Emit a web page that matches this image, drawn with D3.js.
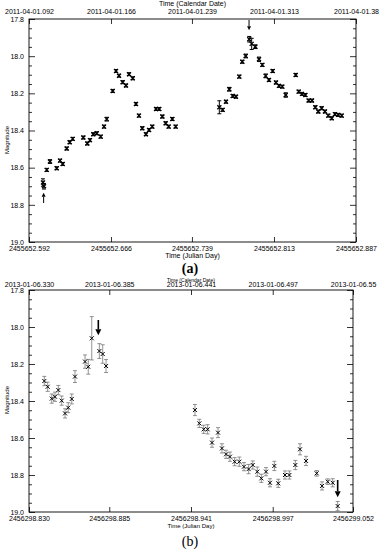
<!DOCTYPE html>
<html lang="en">
<head>
<meta charset="UTF-8">
<title>Light curves</title>
<script src="https://d3js.org/d3.v7.min.js"></script>
<style>
  body { margin: 0; background: #fff; }
  svg text { font-family: "Liberation Sans", Arial, sans-serif; fill: #000 !important; }
  .tag { font-family: "Liberation Serif", "Times New Roman", serif; }
</style>
</head>
<body>
<div id="chart"></div>
<script>
// ---- panel (a) ----
const aJD = [2455652.6046, 2455652.6055, 2455652.6080, 2455652.6109, 2455652.6170, 2455652.6200,
  2455652.6224, 2455652.6260, 2455652.6287, 2455652.6314, 2455652.6410, 2455652.6446,
  2455652.6470, 2455652.6500, 2455652.6531, 2455652.6567, 2455652.6597, 2455652.6621,
  2455652.6675, 2455652.6705, 2455652.6732, 2455652.6765, 2455652.6795, 2455652.6822,
  2455652.6856, 2455652.6885, 2455652.6912, 2455652.6942, 2455652.6975, 2455652.7003,
  2455652.7032, 2455652.7066, 2455652.7095, 2455652.7123, 2455652.7153, 2455652.7180,
  2455652.7213, 2455652.7243,
  2455652.7637, 2455652.7667, 2455652.7697, 2455652.7727, 2455652.7758, 2455652.7787,
  2455652.7817, 2455652.7844, 2455652.7875, 2455652.7907, 2455652.7929, 2455652.7962,
  2455652.7995, 2455652.8025, 2455652.8055, 2455652.8085, 2455652.8118, 2455652.8148,
  2455652.8175, 2455652.8205, 2455652.8236, 2455652.8326, 2455652.8353, 2455652.8383,
  2455652.8413, 2455652.8443, 2455652.8473, 2455652.8503, 2455652.8530, 2455652.8560,
  2455652.8590, 2455652.8620, 2455652.8651, 2455652.8680, 2455652.8710, 2455652.8741];
const aMag = [18.680, 18.700, 18.612, 18.567, 18.603, 18.562,
  18.580, 18.497, 18.463, 18.445, 18.438, 18.470,
  18.452, 18.420, 18.415, 18.433, 18.379, 18.339,
  18.187, 18.080, 18.105, 18.140, 18.158, 18.097,
  18.119, 18.257, 18.320, 18.388, 18.420, 18.397,
  18.379, 18.284, 18.284, 18.325, 18.361, 18.379,
  18.338, 18.379,
  18.275, 18.289, 18.245, 18.178, 18.214, 18.218,
  18.110, 18.030, 17.999, 17.909, 17.934, 17.949,
  18.017, 18.047, 18.106, 18.128, 18.080, 18.142,
  18.160, 18.164, 18.209, 18.101, 18.191, 18.203,
  18.209, 18.239, 18.239, 18.275, 18.298, 18.280,
  18.298, 18.320, 18.334, 18.312, 18.316, 18.320];
const aErr = [0.020, 0.015, 0.008, 0.010, 0.008, 0.008,
  0.008, 0.008, 0.008, 0.008, 0.008, 0.008,
  0.008, 0.008, 0.008, 0.008, 0.008, 0.010,
  0.008, 0.008, 0.008, 0.008, 0.008, 0.008,
  0.008, 0.008, 0.008, 0.008, 0.008, 0.008,
  0.008, 0.008, 0.008, 0.008, 0.008, 0.008,
  0.008, 0.008,
  0.035, 0.008, 0.008, 0.010, 0.008, 0.008,
  0.008, 0.008, 0.010, 0.015, 0.030, 0.010,
  0.012, 0.008, 0.010, 0.008, 0.008, 0.008,
  0.008, 0.008, 0.012, 0.008, 0.008, 0.008,
  0.008, 0.008, 0.008, 0.008, 0.008, 0.008,
  0.008, 0.008, 0.008, 0.008, 0.008, 0.008];
const aTickJD = [2455652.592, 2455652.666, 2455652.739, 2455652.813, 2455652.887];
const aBottomLabels = ["2455652.592", "2455652.666", "2455652.739", "2455652.813", "2455652.887"];
const aTopLabels = ["2011-04-01.092", "2011-04-01.166", "2011-04-01.239", "2011-04-01.313", "2011-04-01.38"];
const aArrowJD = [2455652.6052, 2455652.7905];
const aArrowFrom = [18.790, 17.805];
const aArrowTo = [18.735, 17.860];

// ---- panel (b) ----
const bJD = [2456298.8405, 2456298.8428, 2456298.8456, 2456298.8478, 2456298.8501, 2456298.8524,
  2456298.8547, 2456298.8569, 2456298.8593, 2456298.8615, 2456298.8684, 2456298.8706,
  2456298.8730, 2456298.8782, 2456298.8805, 2456298.8828,
  2456298.9437, 2456298.9467, 2456298.9497, 2456298.9524, 2456298.9554, 2456298.9595,
  2456298.9622, 2456298.9650, 2456298.9677, 2456298.9709, 2456298.9741, 2456298.9773,
  2456298.9805, 2456298.9833, 2456298.9864, 2456298.9892, 2456298.9924, 2456298.9951,
  2456298.9981, 2456299.0008, 2456299.0054, 2456299.0084, 2456299.0125, 2456299.0157,
  2456299.0198, 2456299.0271, 2456299.0308, 2456299.0347, 2456299.0381, 2456299.0415];
const bMag = [18.292, 18.323, 18.387, 18.377, 18.341, 18.398,
  18.467, 18.436, 18.389, 18.268, 18.187, 18.215,
  18.061, 18.130, 18.146, 18.211,
  18.449, 18.521, 18.553, 18.553, 18.625, 18.571,
  18.656, 18.688, 18.701, 18.728, 18.728, 18.755,
  18.768, 18.746, 18.782, 18.818, 18.782, 18.842,
  18.751, 18.845, 18.800, 18.800, 18.746, 18.661,
  18.724, 18.791, 18.859, 18.836, 18.842, 18.968];
const bErr = [0.025, 0.025, 0.025, 0.025, 0.025, 0.025,
  0.025, 0.027, 0.027, 0.032, 0.036, 0.040,
  0.117, 0.040, 0.050, 0.035,
  0.030, 0.022, 0.022, 0.025, 0.025, 0.027,
  0.025, 0.022, 0.025, 0.022, 0.025, 0.022,
  0.025, 0.022, 0.025, 0.022, 0.022, 0.022,
  0.025, 0.022, 0.022, 0.022, 0.025, 0.030,
  0.025, 0.015, 0.022, 0.015, 0.022, 0.025];
const bTickJD = [2456298.830, 2456298.885, 2456298.941, 2456298.997, 2456299.052];
const bBottomLabels = ["2456298.830", "2456298.885", "2456298.941", "2456298.997", "2456299.052"];
const bTopLabels = ["2013-01-06.330", "2013-01-06.385", "2013-01-06.441", "2013-01-06.497", "2013-01-06.55"];
const bArrowJD = [2456298.8775, 2456299.0415];
const bArrowFrom = [17.962, 18.827];
const bArrowTo = [18.045, 18.920];

const magMajor = [17.8, 18.0, 18.2, 18.4, 18.6, 18.8, 19.0];
const magMinor = d3.range(17.85, 19.0, 0.05).filter(v => Math.abs(Math.round(v * 5) / 5 - v) > 0.01);

const svg = d3.select("#chart").append("svg")
  .attr("width", 382)
  .attr("height", 550);

function drawPanel(p) {
  const x = d3.scaleLinear().domain([p.tickJD[0], p.tickJD[p.tickJD.length - 1]]).range([p.left, p.right]);
  const y = d3.scaleLinear().domain([17.8, 19.0]).range([p.top, p.bottom]);
  const g = svg.append("g");

  // axes: inward ticks
  const styleAxis = sel => {
    sel.attr("font-family", null).attr("font-size", null);
    sel.select(".domain").remove();
    sel.selectAll("line").attr("stroke", "#000").attr("stroke-width", 0.8);
    sel.selectAll("text").style("font-size", "7px").attr("fill", "#000");
  };

  g.append("g").attr("transform", `translate(0,${p.bottom})`)
    .call(d3.axisBottom(x).tickValues(p.tickJD).tickFormat((d, i) => p.bottomLabels[i])
      .tickSizeInner(-5).tickSizeOuter(0).tickPadding(4))
    .call(styleAxis);
  g.append("g").attr("transform", `translate(0,${p.top})`)
    .call(d3.axisTop(x).tickValues(p.tickJD).tickFormat((d, i) => p.topLabels[i])
      .tickSizeInner(-5).tickSizeOuter(0).tickPadding(p.topPad))
    .call(styleAxis);

  g.append("g").attr("transform", `translate(${p.left},0)`)
    .call(d3.axisLeft(y).tickValues(magMajor).tickFormat(d3.format(".1f"))
      .tickSizeInner(-6).tickSizeOuter(0).tickPadding(5))
    .call(styleAxis);
  g.append("g").attr("transform", `translate(${p.left},0)`)
    .call(d3.axisLeft(y).tickValues(magMinor).tickFormat("").tickSizeInner(-3).tickSizeOuter(0))
    .call(styleAxis);
  g.append("g").attr("transform", `translate(${p.right},0)`)
    .call(d3.axisRight(y).tickValues(magMajor).tickFormat("").tickSizeInner(-6).tickSizeOuter(0))
    .call(styleAxis);
  g.append("g").attr("transform", `translate(${p.right},0)`)
    .call(d3.axisRight(y).tickValues(magMinor).tickFormat("").tickSizeInner(-3).tickSizeOuter(0))
    .call(styleAxis);

  // frame
  g.append("rect")
    .attr("x", p.left).attr("y", p.top)
    .attr("width", p.right - p.left).attr("height", p.bottom - p.top)
    .attr("fill", "none").attr("stroke", "#000").attr("stroke-width", 0.9);

  // titles
  g.append("text")
    .attr("x", (p.left + p.right) / 2).attr("y", p.topTitleY)
    .attr("text-anchor", "middle").style("font-size", p.topTitleSize + "px")
    .text("Time (Calendar Date)");
  g.append("text")
    .attr("x", (p.left + p.right) / 2).attr("y", p.bottomTitleY)
    .attr("text-anchor", "middle").style("font-size", p.bottomTitleSize + "px")
    .text("Time (Julian Day)");
  g.append("text")
    .attr("transform", `translate(9,${p.yLabelY}) rotate(-90)`)
    .attr("text-anchor", "middle").style("font-size", "6px")
    .text("Magnitude");
  g.append("text")
    .attr("class", "tag")
    .attr("x", 190).attr("y", p.tagY)
    .attr("text-anchor", "middle").style("font-size", "14px")
    .style("font-weight", p.tagWeight)
    .text(p.tag);

  // error bars
  const pts = p.jd.map((d, i) => ({ t: d, m: p.mag[i], e: p.err[i] }));
  const cap = 2;
  const bars = g.append("g").attr("stroke", p.barColor).attr("stroke-width", p.barWidth);
  pts.forEach(d => {
    const cx = x(d.t), y1 = y(d.m - d.e), y2 = y(d.m + d.e);
    bars.append("line").attr("x1", cx).attr("x2", cx).attr("y1", y1).attr("y2", y2);
    bars.append("line").attr("x1", cx - cap).attr("x2", cx + cap).attr("y1", y1).attr("y2", y1);
    bars.append("line").attr("x1", cx - cap).attr("x2", cx + cap).attr("y1", y2).attr("y2", y2);
  });

  // x markers
  const s = 2;
  const marks = g.append("g").attr("stroke", "#000").attr("stroke-width", p.markWidth);
  pts.forEach(d => {
    const cx = x(d.t), cy = y(d.m);
    marks.append("path").attr("d", `M${cx - s},${cy - s}L${cx + s},${cy + s}M${cx - s},${cy + s}L${cx + s},${cy - s}`);
  });

  // arrows
  p.arrowJD.forEach((t, i) => {
    const ax = x(t), y0 = y(p.arrowFrom[i]), y1 = y(p.arrowTo[i]);
    const dir = y1 > y0 ? 1 : -1;
    const hl = p.headLen, hw = p.headW;
    g.append("line").attr("x1", ax).attr("x2", ax).attr("y1", y0).attr("y2", y1 - dir * hl)
      .attr("stroke", "#000").attr("stroke-width", p.arrowWidth);
    g.append("path")
      .attr("d", `M${ax - hw},${y1 - dir * hl}L${ax + hw},${y1 - dir * hl}L${ax},${y1}Z`)
      .attr("fill", "#000");
  });
}

drawPanel({
  left: 29, right: 356, top: 19, bottom: 242,
  jd: aJD, mag: aMag, err: aErr,
  tickJD: aTickJD, bottomLabels: aBottomLabels, topLabels: aTopLabels,
  arrowJD: aArrowJD, arrowFrom: aArrowFrom, arrowTo: aArrowTo,
  topPad: 5.5, topTitleY: 6, topTitleSize: 7, bottomTitleY: 258, bottomTitleSize: 7,
  yLabelY: 140, tag: "(a)", tagY: 272.5, tagWeight: "bold",
  barColor: "#000", barWidth: 1, markWidth: 1.3,
  arrowWidth: 1, headLen: 4, headW: 2
});

drawPanel({
  left: 29, right: 353, top: 290, bottom: 512,
  jd: bJD, mag: bMag, err: bErr,
  tickJD: bTickJD, bottomLabels: bBottomLabels, topLabels: bTopLabels,
  arrowJD: bArrowJD, arrowFrom: bArrowFrom, arrowTo: bArrowTo,
  topPad: 3, topTitleY: 281.5, topTitleSize: 5, bottomTitleY: 528, bottomTitleSize: 6,
  yLabelY: 400, tag: "(b)", tagY: 546, tagWeight: "normal",
  barColor: "#777", barWidth: 0.8, markWidth: 1,
  arrowWidth: 1.6, headLen: 6, headW: 3
});
</script>
</body>
</html>
